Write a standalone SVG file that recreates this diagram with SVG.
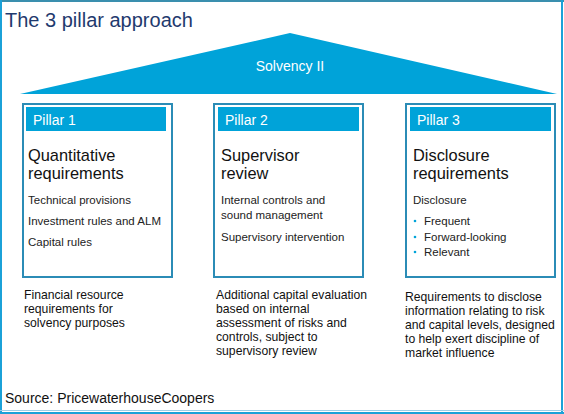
<svg xmlns="http://www.w3.org/2000/svg" width="564" height="414" viewBox="0 0 564 414">
<style>
.f{font-family:"Liberation Sans",Arial,sans-serif}
.box{fill:#fff;stroke:#2b8cb6;stroke-width:2}
.hdr{fill:#00a3d9}
.ht{font-size:14px;fill:#fff}
.big{font-size:16.4px;fill:#111}
.sm{font-size:11.5px;fill:#222}
.bt{font-size:12.2px;fill:#111}
.bul{fill:#00a3d9}
</style>
<rect x="0" y="0" width="564" height="414" fill="#fff"/>
<g id="frame" fill="none">
<line x1="0" y1="1" x2="564" y2="1" stroke="#3a8fae" stroke-width="2"/>
<line x1="1" y1="0" x2="1" y2="414" stroke="#1ba1d8" stroke-width="2"/>
<line x1="562" y1="0" x2="562" y2="414" stroke="#1ba1d8" stroke-width="2"/>
<line x1="0" y1="410.5" x2="564" y2="410.5" stroke="#9fcfe6" stroke-width="1"/>
<line x1="0" y1="413" x2="564" y2="413" stroke="#1ba1d8" stroke-width="2"/>
</g>
<text class="f" x="5" y="27" font-size="20" fill="#1f3a6e">The 3 pillar approach</text>
<g id="roof">
<polygon points="20,94 290,33 557,94" fill="#00a3d9"/>
<text class="f" x="290" y="71" font-size="14" fill="#fff" text-anchor="middle">Solvency II</text>
</g>
<g id="pillar1">
<rect class="box" x="23" y="104" width="149" height="173"/>
<rect class="hdr" x="26" y="107" width="140" height="24"/>
<text class="f ht" x="33" y="125">Pillar 1</text>
<text class="f big" x="28" y="161">Quantitative</text>
<text class="f big" x="28" y="179">requirements</text>
<text class="f sm" x="28" y="204">Technical provisions</text>
<text class="f sm" x="28" y="225">Investment rules and ALM</text>
<text class="f sm" x="28" y="246">Capital rules</text>
</g>
<g id="pillar2">
<rect class="box" x="214" y="104" width="149" height="173"/>
<rect class="hdr" x="218" y="107" width="141" height="24"/>
<text class="f ht" x="225" y="125">Pillar 2</text>
<text class="f big" x="221" y="161">Supervisor</text>
<text class="f big" x="221" y="179">review</text>
<text class="f sm" x="221" y="204">Internal controls and</text>
<text class="f sm" x="221" y="219">sound management</text>
<text class="f sm" x="221" y="241">Supervisory intervention</text>
</g>
<g id="pillar3">
<rect class="box" x="406" y="104" width="149" height="173"/>
<rect class="hdr" x="410" y="107" width="141" height="24"/>
<text class="f ht" x="417" y="125">Pillar 3</text>
<text class="f big" x="413" y="161">Disclosure</text>
<text class="f big" x="413" y="179">requirements</text>
<text class="f sm" x="413" y="204">Disclosure</text>
<circle class="bul" cx="415" cy="221" r="1.3"/>
<circle class="bul" cx="415" cy="237" r="1.3"/>
<circle class="bul" cx="415" cy="252" r="1.3"/>
<text class="f sm" x="424" y="225">Frequent</text>
<text class="f sm" x="424" y="241">Forward-looking</text>
<text class="f sm" x="424" y="256">Relevant</text>
</g>
<g id="notes">
<text class="f bt" x="24" y="299">Financial resource</text>
<text class="f bt" x="24" y="313">requirements for</text>
<text class="f bt" x="24" y="327">solvency purposes</text>
<text class="f bt" x="216" y="299">Additional capital evaluation</text>
<text class="f bt" x="216" y="313">based on internal</text>
<text class="f bt" x="216" y="327">assessment of risks and</text>
<text class="f bt" x="216" y="341">controls, subject to</text>
<text class="f bt" x="216" y="355">supervisory review</text>
<text class="f bt" x="405" y="301">Requirements to disclose</text>
<text class="f bt" x="405" y="315">information relating to risk</text>
<text class="f bt" x="405" y="329">and capital levels, designed</text>
<text class="f bt" x="405" y="343">to help exert discipline of</text>
<text class="f bt" x="405" y="357">market influence</text>
</g>
<text class="f" x="5" y="403" font-size="14" fill="#111">Source: PricewaterhouseCoopers</text>
</svg>
